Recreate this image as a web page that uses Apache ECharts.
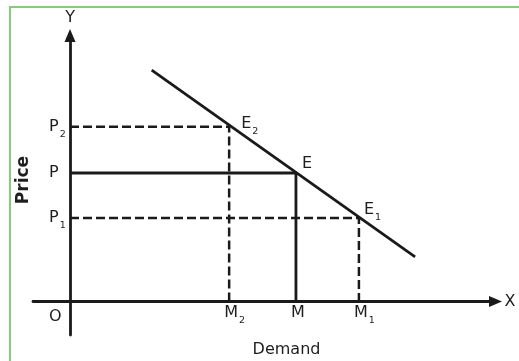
<!DOCTYPE html>
<html><head><meta charset="utf-8">
<script src="https://cdn.jsdelivr.net/npm/echarts@6/dist/echarts.min.js"></script>
<style>html,body{margin:0;padding:0;background:#fff}#c{width:519px;height:361px}</style>
</head><body><div id="c"></div>
<script>
// ---- data ----
const priceNames = ['P2', 'P', 'P1'];
const priceValues = [65.7, 48.3, 31.4];
const quantityNames = ['M2', 'M', 'M1'];
const quantityValues = [37.4, 53.1, 67.9];
const pointNames = ['E2', 'E', 'E1'];
const dashedFlags = [true, false, true];
const demandX = [19.2, 81.1];
const demandY = [87.0, 16.8];
const originLabel = 'O';
const axisNames = ['X', 'Y'];
const axisTitles = ['Demand', 'Price'];

// ---- styles ----
const INK = '#1a1a1a';
const TXT = '#1e1e1e';
const FONT = 'DejaVu Sans';

function sub(name) {
  const base = name[0], s = name.slice(1);
  return s ? '{b|' + base + '}{s|' + s + '}' : '{b|' + base + '}';
}
const rich = {
  b: { fontSize: 16, fontFamily: FONT, color: TXT, lineHeight: 18, textBorderWidth: 0 },
  s: { fontSize: 9.5, fontFamily: FONT, color: TXT, verticalAlign: 'bottom', lineHeight: 18, padding: [0, 0, -4, 1], textBorderWidth: 0 }
};

const series = [];
series.push({
  type: 'line', silent: true, symbol: 'none',
  data: demandX.map((x, i) => [x, demandY[i]]),
  lineStyle: { color: INK, width: 2.8 }
});
priceValues.forEach((p, i) => {
  const q = quantityValues[i];
  series.push({
    type: 'line', silent: true, symbol: 'none',
    data: [[0, p], [q, p], [q, 0]],
    lineStyle: { color: INK, width: dashedFlags[i] ? 2.5 : 2.8, type: dashedFlags[i] ? [9, 4] : 'solid' }
  });
});

const pointOffsets = [[12, -3], [6, -9], [5, -8]];
const labelData = [];
priceValues.forEach((p, i) => {
  labelData.push({ value: [0, p], label: { formatter: sub(priceNames[i]), align: 'left', offset: [-21, 0] } });
});
quantityValues.forEach((q, i) => {
  labelData.push({ value: [q, 0], label: { formatter: sub(quantityNames[i]), align: 'left', offset: [-5, 11] } });
});
pointNames.forEach((n, i) => {
  labelData.push({ value: [quantityValues[i], priceValues[i]], label: { formatter: sub(n), align: 'left', offset: pointOffsets[i] } });
});
labelData.push({ value: [0, 0], label: { formatter: sub(originLabel), align: 'left', offset: [-21, 15] } });

series.push({
  type: 'scatter', silent: true, symbolSize: 0,
  itemStyle: { color: TXT, opacity: 1 },
  data: labelData,
  label: { show: true, position: 'inside', verticalAlign: 'middle', color: TXT, opacity: 1, textBorderWidth: 0, textBorderColor: 'transparent', rich: rich }
});

const axisCommon = {
  type: 'value',
  axisTick: { show: false }, axisLabel: { show: false }, splitLine: { show: false },
  nameLocation: 'end',
  nameTextStyle: { fontSize: 16, fontFamily: FONT, color: TXT }
};

const chart = echarts.init(document.getElementById('c'), null, { renderer: 'canvas' });
chart.setOption({
  animation: false,
  backgroundColor: '#fff',
  grid: { left: 33, right: 23.5, top: 35.5, bottom: 26, containLabel: false },
  xAxis: Object.assign({}, axisCommon, {
    min: -8.7, max: 100, name: axisNames[0], nameGap: 9,
    nameTextStyle: Object.assign({}, axisCommon.nameTextStyle, { verticalAlign: 'middle' }),
    axisLine: { onZero: true, symbol: ['none', 'triangle'], symbolSize: [11, 13], lineStyle: { color: INK, width: 2.8 } }
  }),
  yAxis: Object.assign({}, axisCommon, {
    min: -12.6, max: 100, name: axisNames[1], nameGap: 10,
    axisLine: { onZero: true, symbol: ['none', 'triangle'], symbolSize: [11, 13], lineStyle: { color: INK, width: 2.8 } }
  }),
  graphic: [
    { type: 'rect', silent: true, shape: { x: 10, y: 7, width: 600, height: 500 }, style: { fill: 'none', stroke: '#84cd78', lineWidth: 2 } },
    { type: 'text', silent: true, x: 286.5, y: 350, style: { text: axisTitles[0], font: '16px "DejaVu Sans"', fill: TXT, textAlign: 'center', textVerticalAlign: 'middle' } },
    { type: 'text', silent: true, x: 24, y: 180, rotation: Math.PI / 2, style: { text: axisTitles[1], font: 'bold 17px "DejaVu Sans"', fill: TXT, textAlign: 'center', textVerticalAlign: 'middle' } }
  ],
  series: series
});
</script></body></html>
